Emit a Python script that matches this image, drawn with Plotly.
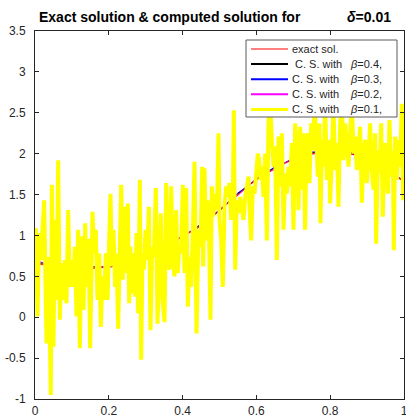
import plotly.graph_objects as go

# ---------------- data ----------------
x_exact = [0.0, 0.05, 0.1, 0.15, 0.2, 0.25, 0.3, 0.35, 0.4, 0.45, 0.5,
           0.55, 0.6, 0.65, 0.7, 0.75, 0.8, 0.85, 0.9, 0.95, 1.0]
y_exact = [0.65, 0.63, 0.61, 0.60, 0.61, 0.65, 0.74, 0.86, 0.98, 1.12, 1.30,
           1.50, 1.68, 1.82, 1.93, 2.00, 2.03, 2.01, 1.93, 1.79, 1.66]

x_cs = x_exact
y_beta04 = [0.66, 0.64, 0.62, 0.61, 0.62, 0.66, 0.75, 0.87, 0.99, 1.13, 1.31,
            1.51, 1.69, 1.83, 1.94, 2.01, 2.04, 2.02, 1.94, 1.80, 1.67]
y_beta03 = [0.68, 0.65, 0.61, 0.62, 0.61, 0.67, 0.74, 0.88, 0.98, 1.14, 1.30,
            1.52, 1.68, 1.84, 1.93, 2.02, 2.03, 2.03, 1.93, 1.81, 1.66]
y_beta02 = [0.70, 0.62, 0.63, 0.59, 0.63, 0.64, 0.76, 0.85, 1.00, 1.11, 1.32,
            1.49, 1.70, 1.81, 1.95, 1.99, 2.05, 2.00, 1.95, 1.78, 1.68]

x_beta01 = [
    0.0000, 0.0023, 0.0068, 0.0113, 0.0158, 0.0248, 0.0312, 0.0366, 0.0429, 0.0456,
    0.0501, 0.0537, 0.0583, 0.0628, 0.0673, 0.0718, 0.0763, 0.0808, 0.0853, 0.0899,
    0.0944, 0.0989, 0.1034, 0.1079, 0.1125, 0.1170, 0.1215, 0.1269, 0.1314, 0.1360,
    0.1405, 0.1450, 0.1495, 0.1558, 0.1603, 0.1648, 0.1694, 0.1739, 0.1784, 0.1829,
    0.1874, 0.1919, 0.1965, 0.2010, 0.2046, 0.2082, 0.2127, 0.2172, 0.2208, 0.2254,
    0.2299, 0.2335, 0.2380, 0.2425, 0.2470, 0.2516, 0.2552, 0.2588, 0.2624, 0.2669,
    0.2715, 0.2751, 0.2796, 0.2841, 0.2877, 0.2913, 0.2950, 0.2995, 0.3040, 0.3085,
    0.3130, 0.3175, 0.3220, 0.3275, 0.3320, 0.3365, 0.3410, 0.3455, 0.3510, 0.3555,
    0.3600, 0.3645, 0.3690, 0.3735, 0.3781, 0.3826, 0.3871, 0.3916, 0.3961, 0.4006,
    0.4052, 0.4097, 0.4142, 0.4187, 0.4232, 0.4277, 0.4323, 0.4377, 0.4431, 0.4485,
    0.4530, 0.4557, 0.4594, 0.4630, 0.4666, 0.4702, 0.4756, 0.4792, 0.4828, 0.4864,
    0.4901, 0.4937, 0.4973, 0.5000, 0.5045, 0.5090, 0.5136, 0.5181, 0.5226, 0.5271,
    0.5316, 0.5361, 0.5389, 0.5425, 0.5470, 0.5515, 0.5560, 0.5605, 0.5650, 0.5696,
    0.5741, 0.5786, 0.5822, 0.5858, 0.5903, 0.5949, 0.5994, 0.6039, 0.6075, 0.6111,
    0.6147, 0.6192, 0.6238, 0.6283, 0.6328, 0.6373, 0.6418, 0.6464, 0.6509, 0.6554,
    0.6599, 0.6644, 0.6690, 0.6735, 0.6780, 0.6825, 0.6870, 0.6915, 0.6961, 0.7006,
    0.7051, 0.7096, 0.7141, 0.7186, 0.7232, 0.7277, 0.7320, 0.7349, 0.7394, 0.7439,
    0.7484, 0.7529, 0.7575, 0.7620, 0.7665, 0.7710, 0.7737, 0.7773, 0.7818, 0.7864,
    0.7909, 0.7954, 0.7999, 0.8044, 0.8089, 0.8135, 0.8180, 0.8225, 0.8270, 0.8315,
    0.8360, 0.8406, 0.8451, 0.8496, 0.8541, 0.8586, 0.8631, 0.8677, 0.8722, 0.8767,
    0.8812, 0.8857, 0.8902, 0.8948, 0.8993, 0.9038, 0.9083, 0.9128, 0.9173, 0.9219,
    0.9246, 0.9291, 0.9336, 0.9381, 0.9426, 0.9472, 0.9517, 0.9562, 0.9607, 0.9652,
    0.9697, 0.9724, 0.9761, 0.9806, 0.9851, 0.9896, 0.9941, 0.9977, 1.0000]
y_beta01 = [
    0.29, 1.09, 0.01, 1.03, 0.70, 1.43, -0.32, 0.74, -0.95, 1.62,
    -0.36, 1.19, 0.21, 1.92, -0.03, 0.66, 0.21, 0.70, 0.17, 1.31,
    0.37, 0.70, 0.37, 0.86, 0.01, 1.07, -0.38, 0.99, 0.09, 1.15,
    0.37, 0.96, -0.38, 1.29, 0.78, 1.07, 0.21, 0.78, -0.12, 0.50,
    0.21, 0.78, 0.21, 1.03, 1.51, 0.62, 1.07, 0.37, 0.78, -0.14,
    0.74, 1.62, 0.46, 1.35, 0.54, 1.39, 0.17, 0.86, 0.29, 0.78,
    0.25, 1.03, 0.05, 1.68, -0.52, 0.78, 0.58, 1.07, 0.70, 1.35,
    -0.16, 0.86, 0.74, 1.58, -0.08, 0.74, 1.27, 0.21, -0.06, 1.64,
    0.78, 0.58, 1.60, 0.70, 0.50, 1.31, 0.54, 0.90, 0.78, 1.62,
    0.54, 1.58, 0.13, 0.74, 0.37, 1.03, 1.90, -0.20, 1.07, 0.86,
    1.84, 0.62, 1.82, 0.94, 1.43, 1.35, -0.03, 1.60, 1.23, 1.51,
    1.31, 1.43, 2.25, 1.19, 0.94, 0.37, 1.35, 1.60, 1.47, 1.64,
    1.19, 1.43, 2.53, 0.58, 1.43, 1.27, 1.47, 1.35, 1.19, 1.47,
    1.60, 1.72, 1.27, 0.94, 1.60, 1.51, 1.76, 2.00, 1.92, 1.68,
    1.84, 1.47, 2.00, 0.94, 2.37, 2.65, 2.17, 1.84, 2.09, 0.70,
    2.21, 1.60, 2.25, 1.07, 1.76, 1.51, 1.84, 1.60, 2.13, 1.07,
    2.37, 2.04, 1.31, 2.33, 1.56, 2.25, 1.07, 1.84, 2.25, 1.64,
    2.37, 2.04, 2.65, 2.09, 1.72, 2.37, 1.15, 2.17, 1.84, 2.65,
    1.68, 2.17, 1.39, 2.00, 2.60, 1.80, 2.13, 1.35, 2.37, 2.65,
    1.92, 2.37, 2.17, 1.84, 2.33, 2.65, 2.00, 2.21, 1.80, 2.17,
    2.33, 1.40, 2.04, 2.17, 1.64, 1.96, 2.37, 1.80, 1.56, 2.25,
    0.90, 2.04, 1.76, 2.37, 1.23, 2.13, 2.00, 1.51, 2.41, 1.72,
    2.04, 0.82, 2.21, 1.68, 2.17, 1.84, 2.61, 1.43, 1.72]

x_tick_vals = [0, 0.2, 0.4, 0.6, 0.8, 1]
x_tick_text = ["0", "0.2", "0.4", "0.6", "0.8", "1"]
y_tick_vals = [-1, -0.5, 0, 0.5, 1, 1.5, 2, 2.5, 3, 3.5]
y_tick_text = ["-1", "-0.5", "0", "0.5", "1", "1.5", "2", "2.5", "3", "3.5"]

series_names = ["exact sol.", " C. S. with", "C. S. with", "C. S. with", "C. S. with"]
beta_labels = ["", "<i>β</i>=0.4,", "<i>β</i>=0.3,", "<i>β</i>=0.2,", "<i>β</i>=0.1,"]
series_colors = ["#ff0000", "#000000", "#0000ff", "#ff00ff", "#ffff00"]
series_widths = [0.8, 1.0, 1.0, 1.0, 4.0]
legend_widths = [1.0, 2.0, 2.0, 2.0, 3.0]

# ---------------- figure ----------------
W, H = 406, 416
L, R, T, B = 35, 2, 31, 17
PW, PH = W - L - R, H - T - B


def px(xp):
    return (xp - L) / PW


def py(yp):
    return (H - B - yp) / PH


FONT = "Liberation Sans, Arial, Helvetica, sans-serif"
TXT = "#262626"

fig = go.Figure()
xs = [x_exact, x_cs, x_cs, x_cs, x_beta01]
ys = [y_exact, y_beta04, y_beta03, y_beta02, y_beta01]
# computed solutions with beta = 0.4, 0.3, 0.2 first, then exact, then beta = 0.1
for i in [1, 2, 3, 0, 4]:
    fig.add_trace(go.Scatter(x=xs[i], y=ys[i], mode="lines",
                             line=dict(color=series_colors[i], width=series_widths[i]),
                             name=series_names[i], showlegend=False,
                             hoverinfo="skip"))

axis_common = dict(showline=True, linecolor=TXT, linewidth=1, mirror="ticks",
                   ticks="inside", ticklen=4, tickcolor=TXT, tickwidth=1,
                   showgrid=False, zeroline=False, ticklabeloverflow="allow",
                   automargin=False,
                   tickfont=dict(family=FONT, size=12, color=TXT))

fig.update_layout(
    width=W, height=H,
    margin=dict(l=L, r=R, t=T, b=B, pad=0, autoexpand=False),
    paper_bgcolor="white", plot_bgcolor="white",
    xaxis=dict(range=[0, 1], tickvals=x_tick_vals, ticktext=x_tick_text,
               ticklabelstandoff=1, **axis_common),
    yaxis=dict(range=[-1, 3.5], tickvals=y_tick_vals, ticktext=y_tick_text,
               ticklabelstandoff=6, **axis_common),
    showlegend=False,
)

shapes = []
annotations = []
# title
annotations.append(dict(xref="paper", yref="paper", x=px(37), y=py(17),
                        xanchor="left", yanchor="middle", showarrow=False,
                        text="<b>Exact solution &amp; computed solution for</b>",
                        font=dict(family=FONT, size=14, color="#000000")))
annotations.append(dict(xref="paper", yref="paper", x=px(345), y=py(17),
                        xanchor="left", yanchor="middle", showarrow=False,
                        text="<b><i>δ</i>=0.01</b>",
                        font=dict(family=FONT, size=14, color="#000000")))

# legend box
shapes.append(dict(type="rect", xref="paper", yref="paper",
                   x0=px(246), x1=px(397), y0=py(117), y1=py(40),
                   line=dict(color="#5a5a5a", width=1), fillcolor="white",
                   layer="above"))
for i in range(5):
    yc = 49 + 15.1 * i
    shapes.append(dict(type="line", xref="paper", yref="paper",
                       x0=px(251), x1=px(288), y0=py(yc), y1=py(yc),
                       line=dict(color=series_colors[i], width=legend_widths[i]),
                       layer="above"))
    annotations.append(dict(xref="paper", yref="paper", x=px(290), y=py(yc),
                            xanchor="left", yanchor="middle", showarrow=False,
                            text=series_names[i].strip(),
                            xshift=3 if i == 1 else 0,
                            font=dict(family=FONT, size=11, color=TXT)))
    if beta_labels[i]:
        annotations.append(dict(xref="paper", yref="paper", x=px(348), y=py(yc),
                                xanchor="left", yanchor="middle", showarrow=False,
                                text=beta_labels[i],
                                font=dict(family=FONT, size=11, color=TXT)))

fig.update_layout(shapes=shapes, annotations=annotations)
fig.write_html("out.html", config={"displayModeBar": False},
               post_script="document.body.style.margin='0';document.body.style.padding='0';"
                           "document.body.style.overflow='hidden';")
